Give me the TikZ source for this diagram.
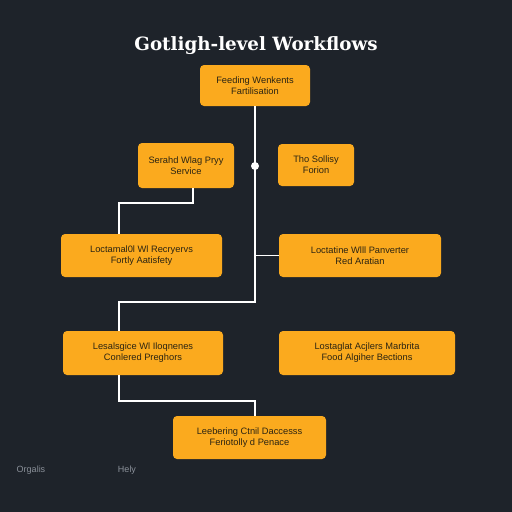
\documentclass[tikz,border=0pt]{standalone}
\usepackage{fontspec}
\setmainfont{Liberation Sans}
\newfontfamily\titlefont{DejaVu Serif}
\usepackage{tikz}
\usetikzlibrary{positioning, calc}
\definecolor{bgdark}{HTML}{1E232A}
\definecolor{boxorange}{HTML}{FBAA1E}
\definecolor{boxtext}{HTML}{2B2412}
\definecolor{footgray}{HTML}{8A9099}
\tikzstyle{line} = [draw, white, line width=1.6pt]
\tikzstyle{block} = [rectangle, fill=boxorange, text=boxtext, align=center,
  rounded corners=4pt, inner sep=0pt, font=\fontsize{9.3}{11}\selectfont]
\tikzstyle{dot} = [circle, fill=white, inner sep=0pt, minimum size=8pt]
\tikzstyle{foot} = [text=footgray, font=\fontsize{9}{11}\selectfont]

\begin{document}
\begin{tikzpicture}[x=1pt, y=-1pt]
    \fill[bgdark] (0,0) rectangle (512,512);
    \useasboundingbox (0,0) rectangle (512,512);

    \node (title) at (256,46) [text=white, font=\titlefont\bfseries\fontsize{18.3}{22}\selectfont] {Gotligh-level Workflows};

    \node [block, minimum width=110pt, minimum height=41pt] (feed) at (255,85.5) {Feeding Wenkents\\Fartilisation};
    \node [block, minimum width=96pt, minimum height=45pt] (serv) at (186,165.5) {Serahd Wlag Pryy\\Service};
    \node [block, minimum width=76pt, minimum height=42pt] (soll) at (316,165) {Tho Sollisy\\Forion};
    \node [block, minimum width=161pt, minimum height=43pt] (recr) at (141.5,255.5) {Loctamal0l Wl Recryervs\\Fortly Aatisfety};
    \node [block, minimum width=162pt, minimum height=43pt] (panv) at (360,255.5) {Loctatine Wlll Panverter\\Red Aratian};
    \node [block, minimum width=160pt, minimum height=44pt] (ilog) at (143,353) {Lesalsgice Wl Iloqnenes\\Conlered Preghors};
    \node [block, minimum width=176pt, minimum height=44pt] (marb) at (367,353) {Lostaglat Acjlers Marbrita\\Food Algiher Bections};
    \node [block, minimum width=153pt, minimum height=43pt] (dacc) at (249.5,437.5) {Leebering Ctnil Daccesss\\Feriotolly d Penace};

    % free ends of the connectors
    \coordinate (spine) at (255,302);
    \coordinate (servOut) at (193,188);
    \coordinate (recrIn) at (119,234);
    \coordinate (ilogIn) at (119,331);
    \coordinate (ilogOut) at (119,375);
    \coordinate (daccIn) at (255,416);

    \path [line] (feed.south) -- (spine) -| (ilogIn);
    \path [line] (panv.west -| feed.south) -- (panv.west);
    \path [line] (servOut) -- ++(0,15) -| (recrIn);
    \path [line] (ilogOut) -- ++(0,26) -| (daccIn);
    \node [dot] (joint) at (255,166) {};

    \node [foot] (orgs) at (31,470) {Orgalis};
    \node [foot] (help) at (127,470) {Hely};
\end{tikzpicture}
\end{document}
